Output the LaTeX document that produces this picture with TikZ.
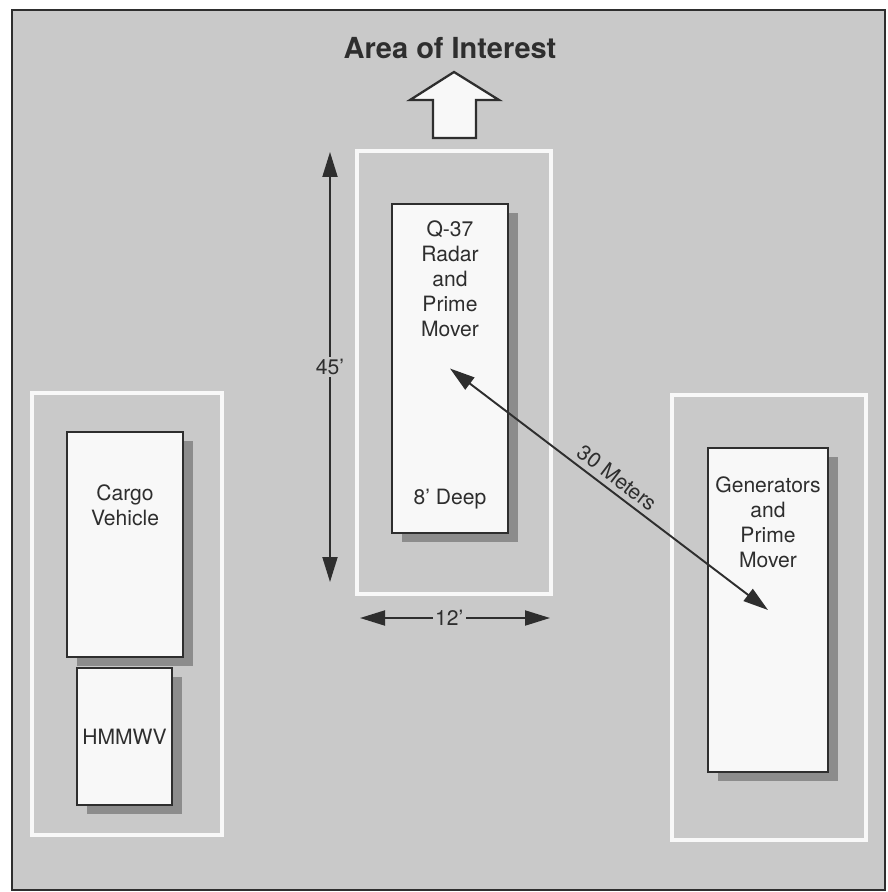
\documentclass[tikz,border=0pt]{standalone}
\usepackage{fontspec}
\setmainfont{TeX Gyre Heros}
\usetikzlibrary{arrows.meta, positioning, shadows}
\definecolor{planGray}{HTML}{C9C9C9}
\definecolor{planDark}{HTML}{2E2E2E}
\definecolor{planWhite}{HTML}{F8F8F8}
\definecolor{planShadow}{HTML}{8C8C8C}
\tikzset{
  dimArrow/.style={<->, >={Triangle[length=5mm, width=3mm]}, planDark, line width=1.1pt},
  vehicle/.style={rectangle, draw=planDark, fill=planWhite, line width=0.9pt, inner sep=0pt,
                  drop shadow={shadow xshift=0.2cm, shadow yshift=-0.18cm, fill=planShadow, opacity=1}},
  zone/.style={rectangle, draw=planWhite, line width=2.2pt, inner sep=0pt},
  vtext/.style={align=center, font=\fontsize{12}{14.2}\selectfont, inner sep=0pt, text=planDark},
  dimLabel/.style={fill=planGray, font=\fontsize{12}{14.2}\selectfont, inner sep=1.5pt, text=planDark},
  blockArrow/.style={draw=planDark, fill=planWhite, line width=1.3pt, line join=miter},
  frame/.style={draw=planDark, fill=planGray, line width=1.4pt},
}

\begin{document}
\begin{tikzpicture}[x=0.02cm, y=-0.02cm]
    \useasboundingbox[fill=white] (0,0) rectangle (888,892);
    \draw[frame] (12,10) rectangle (885,890);

    % title and direction
    \node[font=\fontsize{16.5}{20}\selectfont\bfseries, text=planDark] (aoi) at (450,48.5) {Area of Interest};
    \draw[blockArrow] (433,138) -- (433,100) -- (410,100) -- (454,72) -- (499,100)
      -- (476,100) -- (476,138) -- cycle;

    % zones
    \node[zone, minimum width=3.88cm, minimum height=8.86cm] (radarZone) at (454,372.5) {};
    \node[zone, minimum width=3.8cm, minimum height=8.84cm] (leftZone) at (127,614) {};
    \node[zone, minimum width=3.88cm, minimum height=8.9cm] (rightZone) at (769,617.5) {};

    % vehicles
    \node[vehicle, minimum width=2.32cm, minimum height=6.58cm] (radar) at (450,368.5) {};
    \node[vtext, below=0.34cm of radar.north] (radarTxt) {Q-37\\Radar\\and\\Prime\\Mover};
    \node[vtext, above=0.49cm of radar.south] (deepTxt) {8’ Deep};

    \node[vehicle, minimum width=2.32cm, minimum height=4.5cm] (cargo) at (125,544.5) {};
    \node[vtext, below=1.07cm of cargo.north] (cargoTxt) {Cargo\\Vehicle};

    \node[vehicle, vtext, minimum width=1.9cm, minimum height=2.74cm] (hmmwv) at (124.5,736.5) {HMMWV};

    \node[vehicle, minimum width=2.4cm, minimum height=6.48cm] (gen) at (768,610) {};
    \node[vtext, below=0.59cm of gen.north] (genTxt) {Generators\\and\\Prime\\Mover};

    % dimensions
    \coordinate (hTop) at (330,152);
    \coordinate (hBot) at (330,582);
    \coordinate (wLeft) at (360,618);
    \coordinate (wRight) at (550,618);
    \draw[dimArrow] (hTop) -- (hBot) node[midway, dimLabel] {45’};
    \draw[dimArrow] (wLeft) -- (wRight) node[pos=0.47, dimLabel] {12’};
    \draw[dimArrow] (radar.center) -- (gen.center)
      node[midway, sloped, above=3pt, vtext] {30 Meters};
\end{tikzpicture}
\end{document}
